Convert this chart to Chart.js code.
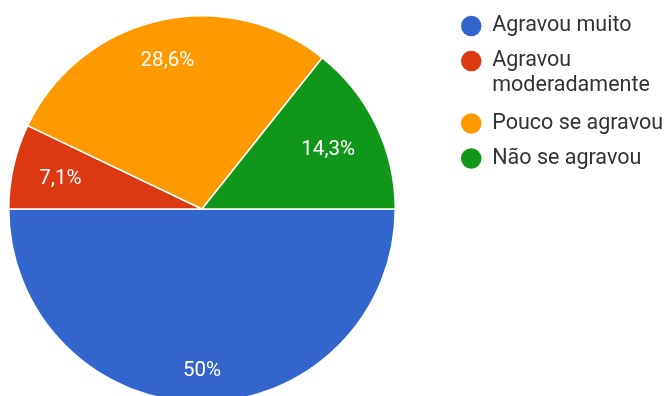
<!DOCTYPE html>
<html>
<head>
<meta charset="utf-8">
<script src="https://cdn.jsdelivr.net/npm/chart.js@4.4.1/dist/chart.umd.min.js"></script>
<style>
html,body{margin:0;padding:0;background:#fff;overflow:hidden;width:664px;height:396px;}
#wrap{position:relative;width:664px;height:404px;}
canvas{display:block;}
</style>
</head>
<body>
<div id="wrap"><canvas id="c" width="664" height="404"></canvas></div>
<script>
// ---- data ----
const categories = ['Agravou muito', 'Agravou moderadamente', 'Pouco se agravou', 'Não se agravou'];
const percentages = [50, 7.1, 28.6, 14.3];
const sliceColors = ['#3366cc', '#dc3912', '#ff9900', '#109618'];

// wrap long legend entries onto two lines
const legendLabels = categories.map(c => c.length > 18 ? c.split(' ') : c);

function formatPct(v) {
  return String(v).replace('.', ',') + '%';
}

const legendPlacer = {
  id: 'legendPlacer',
  afterLayout(chart) {
    const lg = chart.legend;
    const w = lg.width, h = lg.height;
    lg.left = chart.chartArea.right + 51.5;
    lg.right = lg.left + w;
    lg.top = 1.75;
    lg.bottom = lg.top + h;
  }
};

const sliceLabels = {
  id: 'sliceLabels',
  afterDatasetsDraw(chart) {
    const ctx = chart.ctx;
    const meta = chart.getDatasetMeta(0);
    const fontSize = 20.5;
    ctx.save();
    ctx.font = fontSize + 'px Roboto';
    ctx.fillStyle = '#ffffff';
    ctx.textAlign = 'center';
    ctx.textBaseline = 'alphabetic';
    meta.data.forEach((arc, i) => {
      const p = arc.getProps(['x', 'y', 'startAngle', 'endAngle', 'outerRadius'], true);
      const mid = (p.startAngle + p.endAngle) / 2;
      const text = formatPct(percentages[i]);
      const w = ctx.measureText(text).width;
      const capH = fontSize * 0.711;
      const c = Math.cos(mid), s = Math.sin(mid);
      const d = p.outerRadius * 0.866 - (Math.abs(c) * w / 2 + Math.abs(s) * capH / 2);
      ctx.fillText(text, p.x + c * d, p.y + s * d + capH / 2);
    });
    ctx.restore();
  }
};

new Chart(document.getElementById('c'), {
  type: 'pie',
  data: {
    labels: legendLabels,
    datasets: [{
      data: percentages,
      backgroundColor: sliceColors,
      borderColor: '#ffffff',
      borderWidth: 1.5,
      hoverOffset: 0
    }]
  },
  options: {
    responsive: false,
    animation: false,
    devicePixelRatio: 1,
    rotation: 90,
    layout: { padding: { left: 8, top: 15, right: 268, bottom: 1 } },
    plugins: {
      tooltip: { enabled: false },
      legend: {
        position: 'chartArea',
        align: 'start',
        labels: {
          usePointStyle: true,
          pointStyle: 'circle',
          boxHeight: 14.5,
          boxWidth: 14.5,
          pointStyleWidth: 20.5,
          padding: 13.5,
          color: '#333333',
          font: { family: 'Roboto', size: 21.5, lineHeight: '24.5px' },
          generateLabels(chart) {
            return Chart.overrides.doughnut.plugins.legend.labels.generateLabels(chart)
              .map(item => Object.assign({}, item, { lineWidth: 0 }));
          }
        }
      }
    }
  },
  plugins: [legendPlacer, sliceLabels]
});
</script>
</body>
</html>
